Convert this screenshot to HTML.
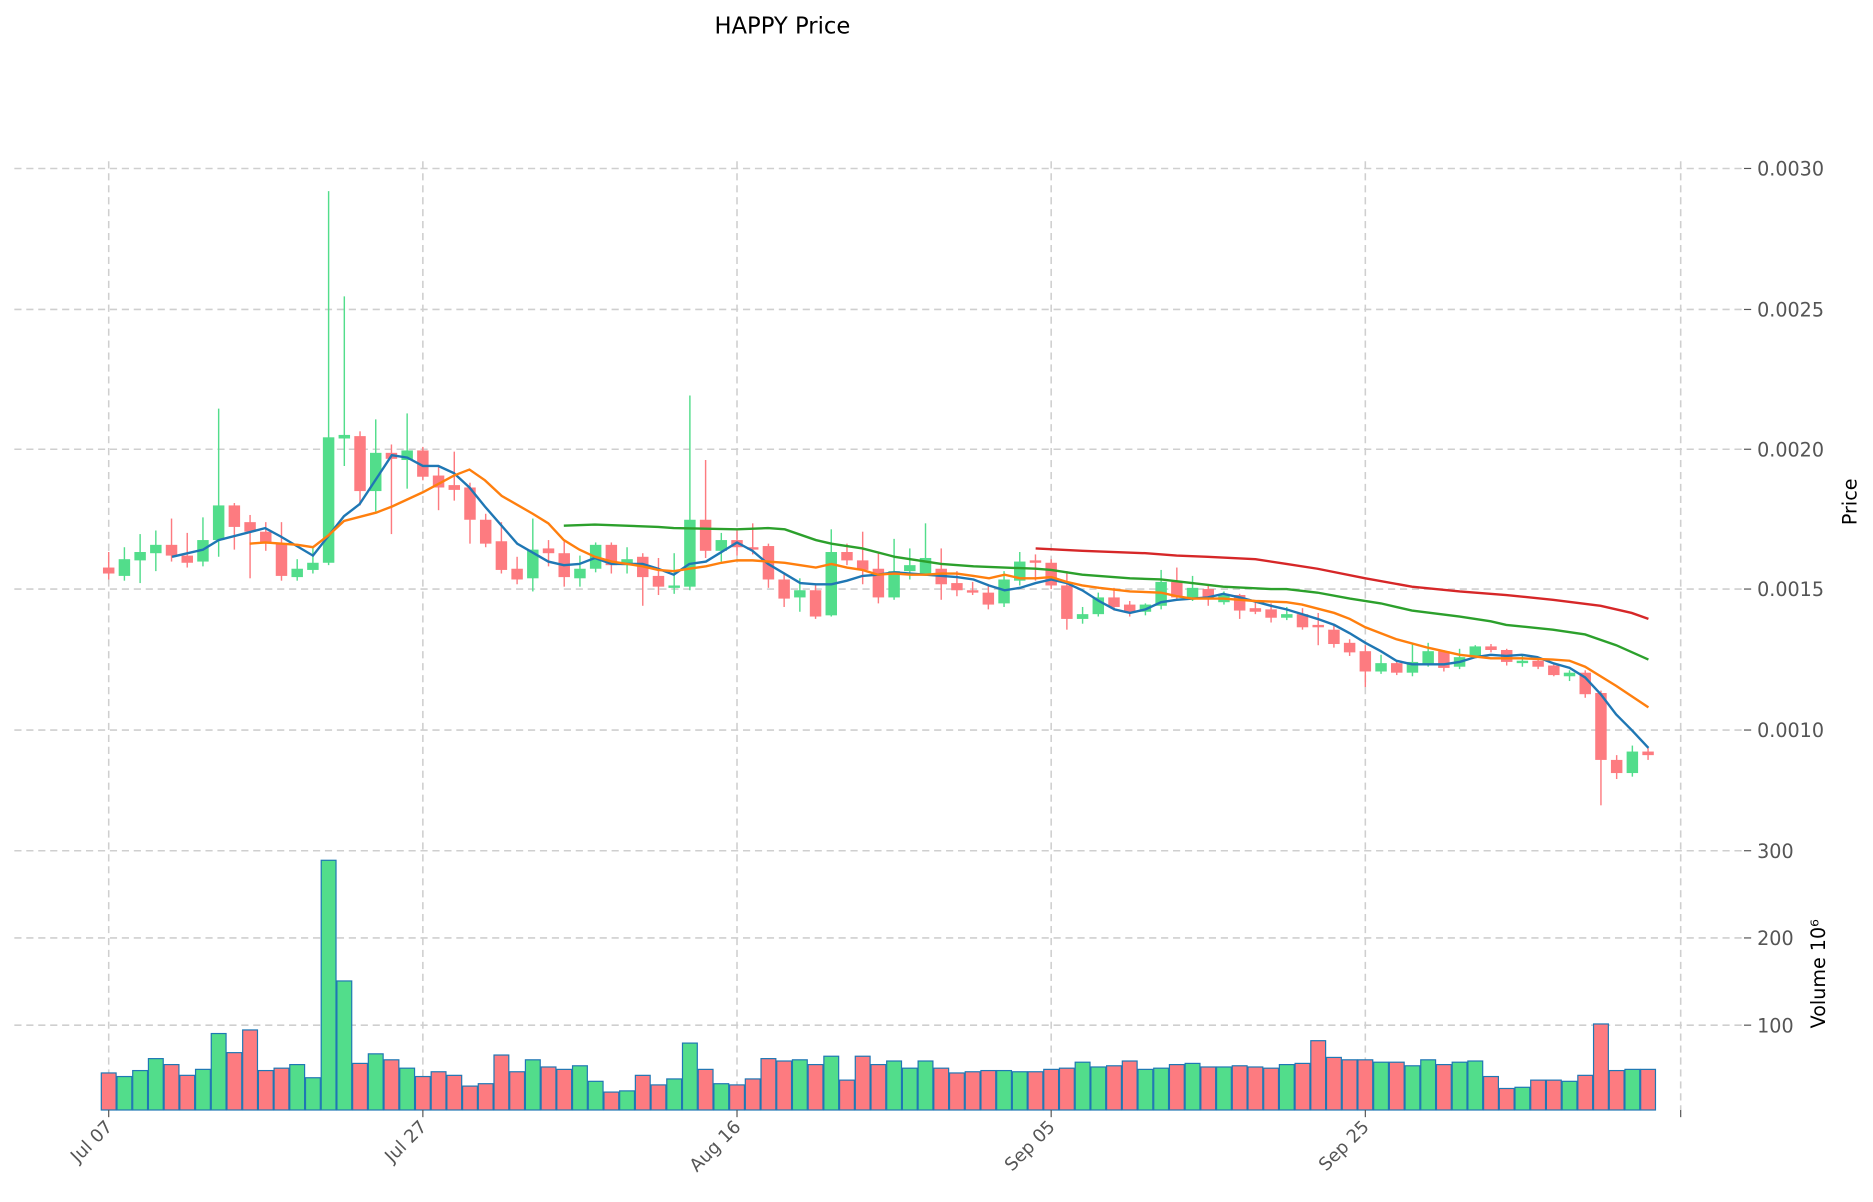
<!DOCTYPE html>
<html><head><meta charset="utf-8"><style>
html,body{margin:0;padding:0;background:#fff}
svg{display:block}
text{font-family:"DejaVu Sans","Liberation Sans",sans-serif;fill:#555}
</style></head><body>
<svg id="c" xmlns="http://www.w3.org/2000/svg" width="1873" height="1202" viewBox="0 0 1568 1006" preserveAspectRatio="none">
<rect width="1568" height="1006" fill="#fff"/>
<text x="655" y="28" font-size="19" text-anchor="middle" style="fill:#000">HAPPY Price</text>
<g id="grid" stroke="#cfcfcf" stroke-width="1.3" stroke-dasharray="6,4" fill="none"></g>
<g id="vol"></g><g id="cand"></g><g id="lines" fill="none" stroke-width="2"></g><g id="lab"></g>
</svg>
<script>
var NS="http://www.w3.org/2000/svg";
function el(p,t,a,txt){var e=document.createElementNS(NS,t);for(var k in a)e.setAttribute(k,a[k]);if(txt!==undefined)e.textContent=txt;document.getElementById(p).appendChild(e);return e;}
var G="#52dd8b",R="#fd7b80";
// grid
[91,354,617,880,1143,1407].forEach(function(x){el("grid","line",{x1:x,y1:135,x2:x,y2:929});});
[[141,"0.0030"],[259,"0.0025"],[376,"0.0020"],[493,"0.0015"],[611,"0.0010"],[712,"300"],[785,"200"],[858,"100"]].forEach(function(a){
 el("grid","line",{x1:12,y1:a[0],x2:1460,y2:a[0]});
 el("lab","line",{x1:1460,y1:a[0],x2:1466,y2:a[0],stroke:"#555","stroke-width":1});
 el("lab","text",{x:1471,y:a[0]+6,"font-size":16},a[1]);
});
el("lab","line",{x1:1407,y1:929,x2:1407,y2:935,stroke:"#555","stroke-width":1});
[[91,"Jul 07"],[354,"Jul 27"],[617,"Aug 16"],[880,"Sep 05"],[1143,"Sep 25"]].forEach(function(a){
 el("lab","line",{x1:a[0],y1:929,x2:a[0],y2:935,stroke:"#555","stroke-width":1});
 el("lab","text",{x:a[0]+4,y:944,"font-size":15,"text-anchor":"end",transform:"rotate(-45 "+(a[0]+4)+" 944)"},a[1]);
});
el("lab","text",{x:1554,y:420,"font-size":16,"text-anchor":"middle",transform:"rotate(-90 1554 420)",style:"fill:#000"},"Price");
el("lab","text",{x:1528,y:815,"font-size":16,"text-anchor":"middle",transform:"rotate(-90 1528 815)",style:"fill:#000"},"Volume  10\u2076");
var C=[["r",475,480,462,485],["g",468,482,458,486],["g",462,469,447,488],["g",456,463,444,478],["r",456,465,434,470],["r",465,471,446,475],["g",452,470,433,474],["g",423,452,342,466],["r",423,441,421,460],["r",437,445,431,484],["r",445,455,437,461],["r",455,482,437,486],["g",476,483,468,486],["g",471,477,458,480],["g",366,471,160,473],["g",364,367,248,390],["r",365,411,361,423],["g",379,411,351,428],["r",379,384,372,447],["g",377,385,346,409],["r",377,399,374,402],["r",398,408,390,427],["r",406,410,378,419],["r",408,435,404,455],["r",435,455,430,458],["r",453,477,437,480],["r",476,485,466,489],["g",460,484,434,495],["r",459,463,452,474],["r",463,483,453,491],["g",476,484,465,491],["g",456,476,454,479],["r",456,473,454,480],["g",468,473,458,480],["r",466,483,463,507],["r",482,491,467,498],["g",490,492,463,497],["g",435,491,331,494],["r",435,461,385,467],["g",452,461,446,470],["r",452,458,444,465],["r",458,460,438,464],["r",457,485,455,492],["r",485,501,479,508],["g",494,500,484,512],["r",494,516,490,518],["g",462,515,443,516],["r",462,469,455,473],["r",469,477,445,489],["r",476,500,462,505],["g",478,500,451,502],["g",473,478,459,485],["g",467,480,438,482],["r",476,489,459,502],["r",488,494,478,499],["r",494,496,487,498],["r",496,506,490,510],["g",485,505,478,508],["g",470,486,462,490],["r",469,471,464,486],["r",471,490,468,493],["r",490,518,478,527],["g",514,518,508,522],["g",500,514,496,516],["r",500,508,492,511],["r",506,512,503,516],["g",506,512,505,515],["g",487,507,477,510],["r",487,500,475,502],["g",492,500,482,503],["r",493,500,490,507],["g",498,504,495,506],["r",498,511,497,518],["r",509,512,503,514],["r",510,517,505,521],["g",514,517,508,519],["r",514,525,509,527],["r",523,525,513,540],["r",527,539,523,542],["r",538,546,535,549],["r",545,562,540,575],["g",555,562,548,564],["r",555,563,553,565],["g",554,563,538,566],["g",545,556,538,558],["r",545,559,544,562],["g",550,558,543,560],["g",541,549,540,550],["r",541,544,539,546],["r",544,554,543,557],["g",553,555,549,558],["r",553,558,552,560],["r",557,565,556,566],["g",563,566,561,570],["r",563,581,561,584],["r",580,636,578,674],["r",636,647,632,652],["g",629,647,624,650],["r",629,632,626,636]];
var V=[898,901,896,886,891,900,895,865,881,862,896,894,891,902,720,821,890,882,887,894,901,897,900,909,907,883,897,887,893,895,892,905,914,913,900,908,903,873,895,907,908,903,886,888,887,891,884,904,884,891,888,894,888,894,898,897,896,896,897,897,895,894,889,893,892,888,895,894,891,890,893,893,892,893,894,891,890,871,885,887,887,889,889,892,887,891,889,888,901,911,910,904,904,905,900,857,896,895,895];
C.forEach(function(c,i){var x=91+13.15*i,col=c[0]=="g"?G:R;
 el("cand","line",{x1:x,y1:c[3],x2:x,y2:c[4],stroke:col,"stroke-width":1.2});
 el("cand","rect",{x:x-4.8,y:c[1],width:9.6,height:Math.max(c[2]-c[1],2),fill:col});
 el("vol","rect",{x:x-6.2,y:V[i],width:12.4,height:929-V[i],fill:col,stroke:"#1f77b4","stroke-width":1});
});
function pl(col,s){el("lines","polyline",{points:s,stroke:col});}
pl("#1f77b4","144,466 170,460 183,452 222,442 235,449 262,465 288,432 301,422 328,381 341,383 354,390 367,390 380,396 393,408 406,424 433,455 459,470 472,473 485,472 498,467 512,472 538,472 551,476 564,481 577,472 591,470 617,454 630,461 643,472 670,488 683,489 696,489 709,486 722,482 735,481 749,479 762,480 775,481 801,483 815,485 828,490 841,494 854,492 867,488 880,485 893,488 906,494 920,503 933,510 946,513 959,510 972,504 985,502 1011,500 1024,497 1038,500 1064,507 1077,510 1090,514 1103,518 1117,523 1130,530 1143,538 1156,545 1169,553 1182,556 1209,556 1222,554 1235,550 1248,548 1261,549 1274,548 1287,550 1300,555 1314,559 1327,567 1340,581 1353,598 1366,611 1380,626");
pl("#ff7f0e","209,455 222,454 249,456 262,458 275,448 288,436 315,429 328,424 354,412 367,405 380,398 393,393 406,402 420,415 446,430 459,438 472,452 485,460 498,466 512,470 525,472 538,474 551,477 564,478 577,476 591,474 604,471 617,469 630,469 643,470 657,471 670,473 683,475 696,472 709,475 722,477 735,481 749,480 762,481 775,481 788,480 801,480 815,482 828,484 841,481 854,484 867,484 880,483 893,487 906,490 920,492 946,495 972,496 985,499 998,501 1024,501 1051,503 1077,504 1090,506 1117,513 1130,518 1143,525 1169,535 1195,542 1222,548 1248,551 1274,551 1300,552 1314,553 1327,558 1353,574 1380,592");
pl("#2ca02c","472,440 498,439 551,441 564,442 617,443 643,442 657,443 683,452 696,455 722,459 749,466 775,470 788,472 815,474 841,475 867,476 880,477 906,481 946,484 972,485 998,488 1024,491 1064,493 1077,493 1103,496 1130,501 1156,505 1182,511 1222,516 1248,520 1261,523 1300,527 1327,531 1353,540 1380,552");
pl("#d62728","867,459 906,461 959,463 985,465 1011,466 1051,468 1077,472 1103,476 1143,484 1182,491 1222,495 1261,498 1300,502 1340,507 1366,513 1380,518");
</script>
</body></html>
